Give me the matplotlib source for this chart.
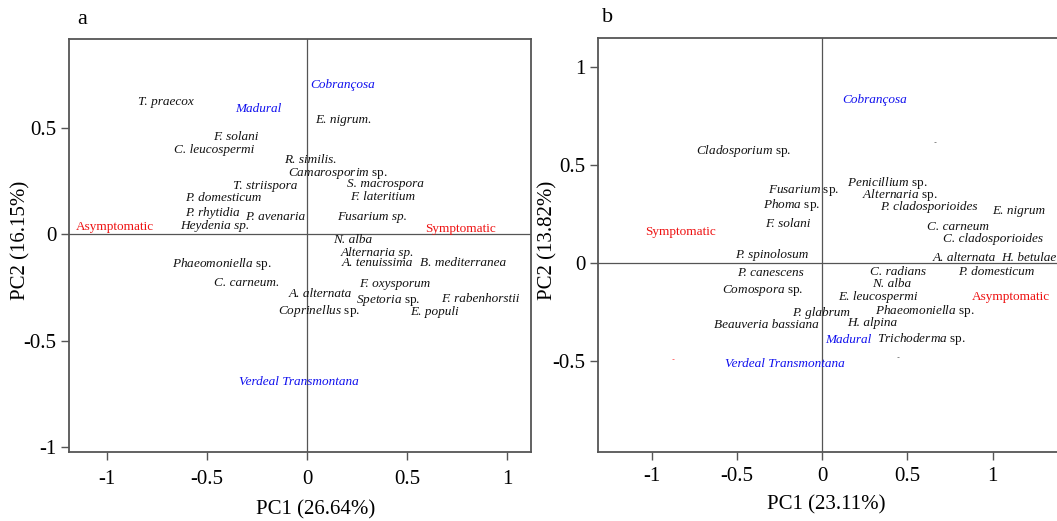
import matplotlib
matplotlib.use("Agg")
import matplotlib.pyplot as plt

plt.rcParams["font.family"] = ["Liberation Serif", "DejaVu Serif"]
plt.rcParams["mathtext.fontset"] = "custom"
plt.rcParams["mathtext.it"] = "Liberation Serif:italic"
plt.rcParams["mathtext.rm"] = "Liberation Serif"
plt.rcParams["axes.unicode_minus"] = False

# ---- panel a: fungal taxa scores ----
a_species = ["T. praecox", "E. nigrum.", "F. solani", "C. leucospermi", "R. similis.",
             "$\\mathit{Camarosporim}$ sp.", "T. striispora", "S. macrospora", "P. domesticum",
             "F. lateritium", "P. rhytidia", "P. avenaria", "Fusarium sp.", "Heydenia sp.",
             "N. alba", "Alternaria sp.", "$\\mathit{Phaeomoniella}$ sp.", "A. tenuissima",
             "B. mediterranea", "C. carneum.", "F. oxysporum", "A. alternata",
             "$\\mathit{Spetoria}$ sp.", "F. rabenhorstii", "$\\mathit{Coprinellus}$ sp.", "E. populi"]
a_sp_x = [-0.705, 0.18, -0.355, -0.465, 0.015, 0.155, -0.21, 0.39, -0.42, 0.38, -0.475, -0.16,
          0.325, -0.46, 0.23, 0.35, -0.425, 0.35, 0.78, -0.30, 0.44, 0.065, 0.405, 0.865, 0.06, 0.635]
a_sp_y = [0.622, 0.537, 0.457, 0.396, 0.349, 0.288, 0.227, 0.236, 0.171, 0.175, 0.100, 0.081,
          0.081, 0.039, -0.027, -0.088, -0.139, -0.135, -0.135, -0.229, -0.234, -0.281, -0.309,
          -0.304, -0.36, -0.365]
a_cultivars = ["Madural", "Cobrançosa", "Verdeal Transmontana"]
a_cv_x = [-0.245, 0.18, -0.04]
a_cv_y = [0.589, 0.701, -0.694]
a_status = ["Asymptomatic", "Symptomatic"]
a_st_x = [-0.96, 0.765]
a_st_y = [0.034, 0.025]

# ---- panel b ----
b_species = ["$\\mathit{Cladosporium}$ sp.", "$\\mathit{Penicillium}$ sp.", "$\\mathit{Fusarium}$ sp.",
             "$\\mathit{Alternaria}$ sp.", "$\\mathit{Phoma}$ sp.", "P. cladosporioides", "E. nigrum",
             "F. solani", "C. carneum", "C. cladosporioides", "P. spinolosum", "A. alternata",
             "H. betulae", "C. radians", "P. domesticum", "P. canescens", "N. alba",
             "$\\mathit{Comospora}$ sp.", "E. leucospermi", "$\\mathit{Phaeomoniella}$ sp.",
             "P. glabrum", "H. alpina", "Beauveria bassiana", "$\\mathit{Trichoderma}$ sp."]
b_sp_x = [-0.457, 0.381, -0.111, 0.457, -0.176, 0.628, 1.155, -0.199, 0.798, 1.003, -0.293, 0.833,
          1.214, 0.446, 1.021, -0.305, 0.411, -0.346, 0.328, 0.604, -0.006, 0.293, -0.328, 0.581]
b_sp_y = [0.571, 0.408, 0.372, 0.347, 0.296, 0.286, 0.265, 0.199, 0.184, 0.122, 0.041, 0.026,
          0.026, -0.046, -0.046, -0.051, -0.107, -0.138, -0.173, -0.245, -0.255, -0.306, -0.316,
          -0.388]
b_cultivars = ["Cobrançosa", "Madural", "Verdeal Transmontana"]
b_cv_x = [0.311, 0.152, -0.217]
b_cv_y = [0.832, -0.393, -0.515]
b_status = ["Symptomatic", "Asymptomatic"]
b_st_x = [-0.833, 1.108]
b_st_y = [0.158, -0.173]
# tiny stray marks visible in panel b
b_dot_x = [-0.874, 0.663, 0.446]
b_dot_y = [-0.49, 0.617, -0.48]
b_dot_c = ["#ff6060", "#777777", "#777777"]

fig = plt.figure(figsize=(10.57, 5.21), dpi=100)
ax_a = fig.add_axes([0.0653, 0.1324, 0.4371, 0.7927])
ax_b = fig.add_axes([0.5658, 0.1324, 0.4342, 0.7946])

def style_axes(ax, xlim, ylim, yticks, ylabels):
    ax.set_xlim(xlim)
    ax.set_ylim(ylim)
    ax.axhline(0, color="#555555", lw=0.9, zorder=1)
    ax.axvline(0, color="#555555", lw=0.9, zorder=1)
    ax.set_xticks([-1, -0.5, 0, 0.5, 1])
    ax.set_xticklabels(["-1", "-0.5", "0", "0.5", "1"])
    ax.set_yticks(yticks)
    ax.set_yticklabels(ylabels)
    ax.tick_params(labelsize=15, length=6, width=1, color="#555555", pad=3)
    for s in ax.spines.values():
        s.set_color("#555555")
        s.set_linewidth(1.3)

def put_labels(ax, names, xs, ys, color, italic):
    for n, x, y in zip(names, xs, ys):
        st = "normal" if ("$" in n or not italic) else "italic"
        ax.text(x, y, n, ha="center", va="center", fontsize=9.5, color=color,
                style=st, clip_on=False)

style_axes(ax_a, (-1.19, 1.12), (-1.023, 0.918), [-1, -0.5, 0, 0.5], ["-1", "-0.5", "0", "0.5"])
ax_a.tick_params(axis="x", pad=7)
put_labels(ax_a, a_species, a_sp_x, a_sp_y, "#111111", True)
put_labels(ax_a, a_cultivars, a_cv_x, a_cv_y, "#1010ee", True)
put_labels(ax_a, a_status, a_st_x, a_st_y, "#ee1111", False)

style_axes(ax_b, (-1.314, 1.378), (-0.964, 1.148), [-0.5, 0, 0.5, 1], ["-0.5", "0", "0.5", "1"])
ax_b.spines["right"].set_visible(False)
ax_b.tick_params(axis="x", pad=5)
put_labels(ax_b, b_species, b_sp_x, b_sp_y, "#111111", True)
put_labels(ax_b, b_cultivars, b_cv_x, b_cv_y, "#1010ee", True)
put_labels(ax_b, b_status, b_st_x, b_st_y, "#ee1111", False)
for x, y, c in zip(b_dot_x, b_dot_y, b_dot_c):
    ax_b.plot(x, y, marker="_", ms=2, mew=0.6, color=c)

fig.text(82 / 1057, 1 - 20 / 521, "a", fontsize=16, ha="center", va="center")
fig.text(608 / 1057, 1 - 18 / 521, "b", fontsize=16, ha="center", va="center")
fig.text(21 / 1057, 1 - 240 / 521, "PC2 (16.15%)", fontsize=15, rotation=90, ha="center", va="center")
fig.text(548 / 1057, 1 - 240 / 521, "PC2 (13.82%)", fontsize=15, rotation=90, ha="center", va="center")
fig.text(316 / 1057, 1 - 510 / 521, "PC1 (26.64%)", fontsize=15, ha="center", va="center")
fig.text(826 / 1057, 1 - 505 / 521, "PC1 (23.11%)", fontsize=15, ha="center", va="center")

fig.savefig("out.png", dpi=100)
